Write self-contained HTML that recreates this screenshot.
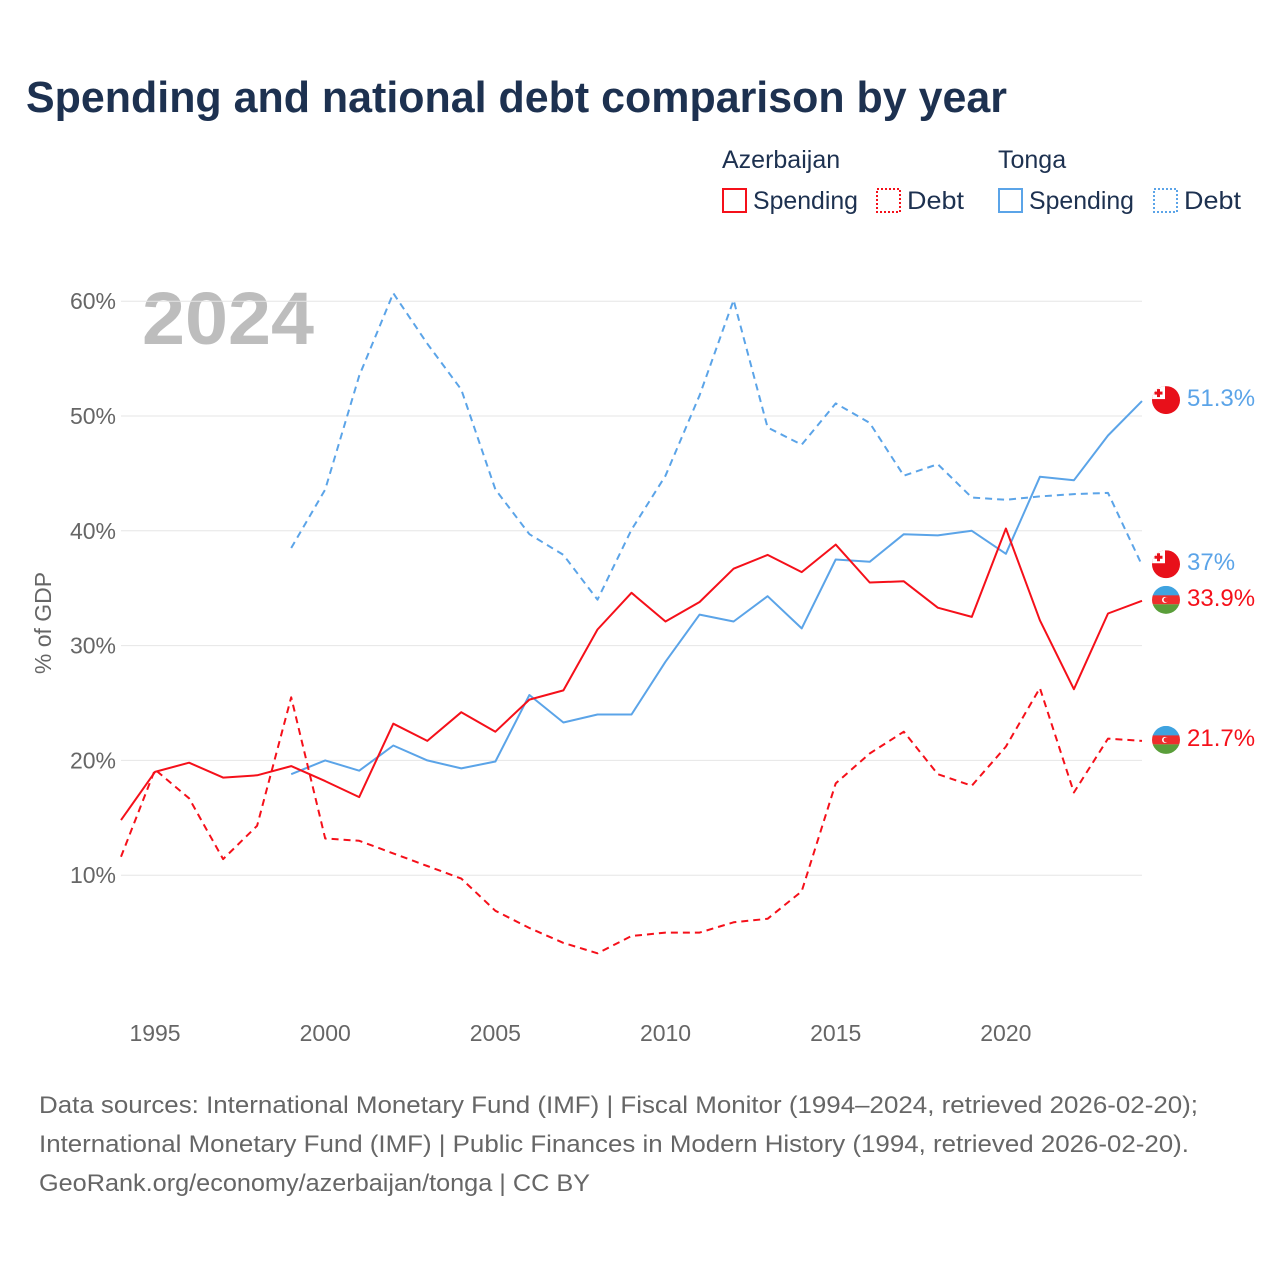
<!DOCTYPE html>
<html><head><meta charset="utf-8">
<style>
html,body{margin:0;padding:0;background:#fff;}
body{width:1280px;height:1280px;overflow:hidden;font-family:"Liberation Sans",sans-serif;}
</style></head>
<body>
<svg id="chart" width="1280" height="1280" xmlns="http://www.w3.org/2000/svg" font-family="Liberation Sans, sans-serif">
<text x="26" y="112" font-size="44" font-weight="bold" fill="#1d3150" textLength="981" lengthAdjust="spacingAndGlyphs">Spending and national debt comparison by year</text>
<g font-size="25" fill="#1d3150">
  <text x="722" y="168">Azerbaijan</text>
  <text x="998" y="168">Tonga</text>
  <g><rect x="723" y="189" width="23" height="23" fill="none" stroke="#f5101a" stroke-width="2"/><text x="753" y="209" textLength="105" lengthAdjust="spacingAndGlyphs">Spending</text></g>
  <g><rect x="877" y="189" width="23" height="23" fill="none" stroke="#f5101a" stroke-width="2" stroke-dasharray="2,2"/><text x="907" y="209" textLength="57" lengthAdjust="spacingAndGlyphs">Debt</text></g>
  <g><rect x="999" y="189" width="23" height="23" fill="none" stroke="#5ba4e8" stroke-width="2"/><text x="1029" y="209" textLength="105" lengthAdjust="spacingAndGlyphs">Spending</text></g>
  <g><rect x="1154" y="189" width="23" height="23" fill="none" stroke="#5ba4e8" stroke-width="2" stroke-dasharray="2,2"/><text x="1184" y="209" textLength="57" lengthAdjust="spacingAndGlyphs">Debt</text></g>
</g>
<text x="142" y="344" font-size="74" font-weight="bold" fill="#bdbdbd" textLength="172" lengthAdjust="spacingAndGlyphs">2024</text>
<g id="grid"></g><g id="axes"></g><g id="series"></g><g id="endlabels"></g>
<text transform="translate(51,623) rotate(-90)" text-anchor="middle" font-size="23" fill="#666">% of GDP</text>
<g font-size="24" fill="#666">
<text x="39" y="1113" textLength="1159" lengthAdjust="spacingAndGlyphs">Data sources: International Monetary Fund (IMF) | Fiscal Monitor (1994–2024, retrieved 2026-02-20);</text>
<text x="39" y="1152" textLength="1150" lengthAdjust="spacingAndGlyphs">International Monetary Fund (IMF) | Public Finances in Modern History (1994, retrieved 2026-02-20).</text>
<text x="39" y="1191" textLength="551" lengthAdjust="spacingAndGlyphs">GeoRank.org/economy/azerbaijan/tonga | CC BY</text>
</g>
</svg>
<script>
const years=[];for(let y=1994;y<=2024;y++)years.push(y);
const azeSpending=[14.8,19.0,19.8,18.5,18.7,19.5,18.2,16.8,23.2,21.7,24.2,22.5,25.3,26.1,31.4,34.6,32.1,33.8,36.7,37.9,36.4,38.8,35.5,35.6,33.3,32.5,40.2,32.2,26.2,32.8,33.9];
const azeDebt=[11.6,19.2,16.7,11.4,14.3,25.5,13.2,13.0,11.9,10.8,9.7,6.9,5.4,4.1,3.2,4.7,5.0,5.0,5.9,6.2,8.6,18.0,20.6,22.5,18.8,17.8,21.2,26.3,17.2,21.9,21.7];
const tongaSpending=[null,null,null,null,null,18.8,20.0,19.1,21.3,20.0,19.3,19.9,25.7,23.3,24.0,24.0,28.6,32.7,32.1,34.3,31.5,37.5,37.3,39.7,39.6,40.0,38.0,44.7,44.4,48.3,51.3];
const tongaDebt=[null,null,null,null,null,38.5,43.6,53.5,60.7,56.3,52.3,43.6,39.7,37.9,34.0,40.1,44.8,51.8,60.1,49.0,47.5,51.1,49.4,44.8,45.8,42.9,42.7,43.0,43.2,43.3,37.0];
const yTicks=[10,20,30,40,50,60];
const xTicks=[1995,2000,2005,2010,2015,2020];
const NS="http://www.w3.org/2000/svg";
const X=y=>121+(y-1994)*(1021/30);
const Y=v=>990-v*11.48;
function mk(t,a,p){const e=document.createElementNS(NS,t);for(const k in a)e.setAttribute(k,a[k]);p.appendChild(e);return e;}
const grid=document.getElementById('grid'),axes=document.getElementById('axes');
yTicks.forEach(v=>{
  const l=mk('line',{x1:121,x2:1142,y1:Y(v),y2:Y(v),stroke:'#e6e6e6','stroke-width':1},grid);
  
  
  const t=mk('text',{x:116,y:Y(v)+8,'text-anchor':'end','font-size':23,fill:'#666'},axes);
  t.textContent=v+'%';
  
  
});
xTicks.forEach(v=>{
  const t=mk('text',{x:X(v),y:1041,'text-anchor':'middle','font-size':23,fill:'#666'},axes);
  t.textContent=v;
  
  
});
const ser=document.getElementById('series');
function line(vals,color,dash,name){
  let d='';let pen=false;
  vals.forEach((v,i)=>{if(v==null){pen=false;return;}d+=(pen?'L':'M')+X(years[i]).toFixed(1)+','+Y(v).toFixed(1);pen=true;});
  const p=mk('path',{d:d,fill:'none',stroke:color,'stroke-width':2,'stroke-dasharray':dash||'none','stroke-linejoin':'round'},ser);
  
  
}
line(tongaDebt,'#5ba4e8','7,5','line-tonga-debt');
line(tongaSpending,'#5ba4e8','','line-tonga-spending');
line(azeDebt,'#f5101a','7,5','line-azerbaijan-debt');
line(azeSpending,'#f5101a','','line-azerbaijan-spending');
const el=document.getElementById('endlabels');
function flag(kind,cy,val,color,name){
  const cx=1166;
  const g=mk('g',{},el);
  
  
  const cid='c'+name;
  const cp=mk('clipPath',{id:cid},g);mk('circle',{cx:cx,cy:cy,r:14},cp);
  const fg=mk('g',{'clip-path':'url(#'+cid+')'},g);
  if(kind==='tonga'){
    mk('rect',{x:cx-14,y:cy-14,width:28,height:28,fill:'#e8101a'},fg);
    mk('rect',{x:cx-14,y:cy-14,width:13,height:13,fill:'#fff'},fg);
    mk('rect',{x:cx-9,y:cy-11,width:3,height:8,fill:'#e8101a'},fg);
    mk('rect',{x:cx-11.5,y:cy-8.5,width:8,height:3,fill:'#e8101a'},fg);
  } else {
    mk('rect',{x:cx-14,y:cy-14,width:28,height:10,fill:'#3fa3e0'},fg);
    mk('rect',{x:cx-14,y:cy-4.5,width:28,height:9,fill:'#ef2d2d'},fg);
    mk('rect',{x:cx-14,y:cy+4.5,width:28,height:10,fill:'#5a9e3a'},fg);
    mk('circle',{cx:cx-1,cy:cy,r:3,fill:'#fff'},fg);
    mk('circle',{cx:cx,cy:cy,r:2.4,fill:'#ef2d2d'},fg);
  }
  const t=mk('text',{x:1187,y:cy+6,'font-size':24,fill:color},g);
  t.textContent=val;
}
const n=years.length-1;
flag('tonga',Y(tongaSpending[n])-1,tongaSpending[n]+'%','#5ba4e8','end-label-tonga-spending');
flag('tonga',Y(tongaDebt[n])-1,tongaDebt[n]+'%','#5ba4e8','end-label-tonga-debt');
flag('aze',Y(azeSpending[n])-1,azeSpending[n]+'%','#f5101a','end-label-azerbaijan-spending');
flag('aze',Y(azeDebt[n])-1,azeDebt[n]+'%','#f5101a','end-label-azerbaijan-debt');
</script>
</body></html>
